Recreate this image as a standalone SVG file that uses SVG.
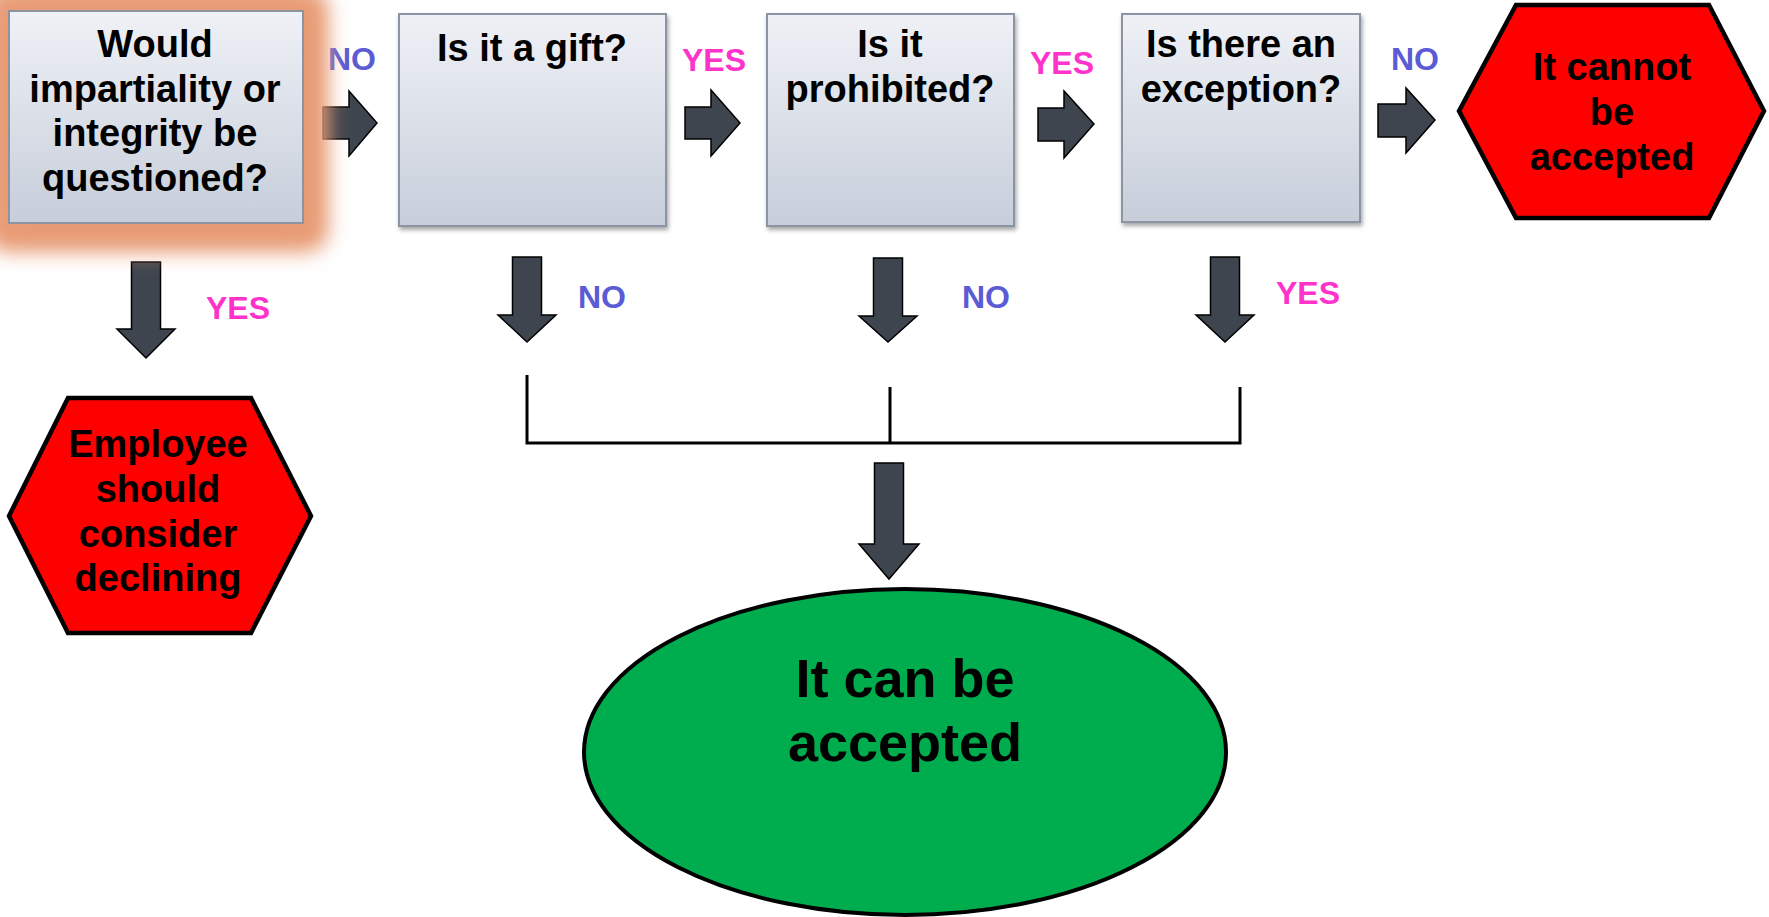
<svg xmlns="http://www.w3.org/2000/svg" width="1769" height="917" viewBox="0 0 1769 917">
<style>
.q{font-family:"Liberation Sans",Arial,sans-serif;font-weight:bold;font-size:38px;fill:#000;text-anchor:middle}
.big{font-size:54px}
.no{font-family:"Liberation Sans",Arial,sans-serif;font-weight:bold;font-size:32px;fill:#5B5BD6;text-anchor:middle}
.yes{font-family:"Liberation Sans",Arial,sans-serif;font-weight:bold;font-size:32px;fill:#FF33CC;text-anchor:middle}
.box{fill:url(#boxg);stroke:#8A94A3;stroke-width:2;filter:url(#shadow)}
.arrow{fill:#3F454E;stroke:#000;stroke-width:1.5;stroke-linejoin:miter}
.hex{fill:#FF0000;stroke:#000;stroke-width:4.5;stroke-linejoin:miter}
.line{stroke:#000;stroke-width:3;fill:none}
</style>
<defs>
<linearGradient id="boxg" x1="0" y1="0" x2="0" y2="1">
<stop offset="0" stop-color="#EFF1F6"/>
<stop offset="1" stop-color="#C7CEDA"/>
</linearGradient>
<filter id="shadow" x="-10%" y="-10%" width="130%" height="130%">
<feDropShadow dx="1.5" dy="3" stdDeviation="2" flood-color="#000" flood-opacity="0.35"/>
</filter>
<filter id="glow" x="-30%" y="-30%" width="160%" height="160%">
<feGaussianBlur stdDeviation="10"/>
</filter>
</defs>
<rect width="1769" height="917" fill="#fff"/>

<g id="connectors">
<path class="arrow" d="M323,107 H349 V91 L377,123 L349,156 V139 H323 Z"/>
<path class="arrow" d="M685,107 H711 V90 L740,123 L711,156 V139 H685 Z"/>
<path class="arrow" d="M1038,108 H1064 V91 L1094,124 L1064,158 V141 H1038 Z"/>
<path class="arrow" d="M1378,104 H1406 V88 L1435,120 L1406,153 V137 H1378 Z"/>
<path class="arrow" d="M131.5,262 H160.5 V329 H175 L146,358 L117,329 H131.5 Z"/>
<path class="arrow" d="M512.5,257 H541.5 V315 H556 L527,342 L498,315 H512.5 Z"/>
<path class="arrow" d="M873.5,258 H902.5 V316 H917 L888,342 L859,316 H873.5 Z"/>
<path class="arrow" d="M1210.5,257 H1239.5 V315 H1254 L1225,342 L1196,315 H1210.5 Z"/>
<path class="arrow" d="M874.5,463 H903.5 V544 H919 L889,579 L859,544 H874.5 Z"/>
<path class="line" d="M527,375 V443 H1240 V387 M890,387 V443"/>
<text class="no" x="352" y="70">NO</text>
<text class="yes" x="714" y="71">YES</text>
<text class="yes" x="1062" y="74">YES</text>
<text class="no" x="1415" y="70">NO</text>
<text class="yes" x="238" y="319">YES</text>
<text class="no" x="602" y="308">NO</text>
<text class="no" x="986" y="308">NO</text>
<text class="yes" x="1308" y="304">YES</text>
</g>

<g id="node-impartiality">
<rect x="-14" y="-12" width="342" height="264" rx="22" fill="#E89C76" filter="url(#glow)"/>
<rect x="-2" y="0" width="316" height="236" rx="10" fill="#E89C76" opacity="0.8" filter="url(#glow)"/>
<rect x="9" y="11" width="294" height="212" fill="url(#boxg)" stroke="#8A94A3" stroke-width="2"/>
<text class="q" x="155" y="57">Would</text>
<text class="q" x="155" y="102">impartiality or</text>
<text class="q" x="155" y="146">integrity be</text>
<text class="q" x="155" y="191">questioned?</text>
</g>

<g id="node-gift">
<rect class="box" x="399" y="14" width="267" height="212"/>
<text class="q" x="532" y="61">Is it a gift?</text>
</g>

<g id="node-prohibited">
<rect class="box" x="767" y="14" width="247" height="212"/>
<text class="q" x="890" y="57">Is it</text>
<text class="q" x="890" y="102">prohibited?</text>
</g>

<g id="node-exception">
<rect class="box" x="1122" y="14" width="238" height="208"/>
<text class="q" x="1241" y="57">Is there an</text>
<text class="q" x="1241" y="102">exception?</text>
</g>

<g id="node-cannot">
<polygon class="hex" points="1459,111 1516,5 1709,5 1764,111 1709,218 1516,218"/>
<text class="q" x="1612" y="80">It cannot</text>
<text class="q" x="1612" y="125">be</text>
<text class="q" x="1612" y="170">accepted</text>
</g>

<g id="node-declining">
<polygon class="hex" points="9,516 68,398 251,398 311,516 251,633 68,633"/>
<text class="q" x="158" y="457">Employee</text>
<text class="q" x="158" y="502">should</text>
<text class="q" x="158" y="547">consider</text>
<text class="q" x="158" y="591">declining</text>
</g>

<g id="node-can">
<ellipse cx="905" cy="752" rx="321" ry="163" fill="#00AD4E" stroke="#000" stroke-width="4"/>
<text class="q big" x="905" y="697">It can be</text>
<text class="q big" x="905" y="761">accepted</text>
</g>
</svg>
